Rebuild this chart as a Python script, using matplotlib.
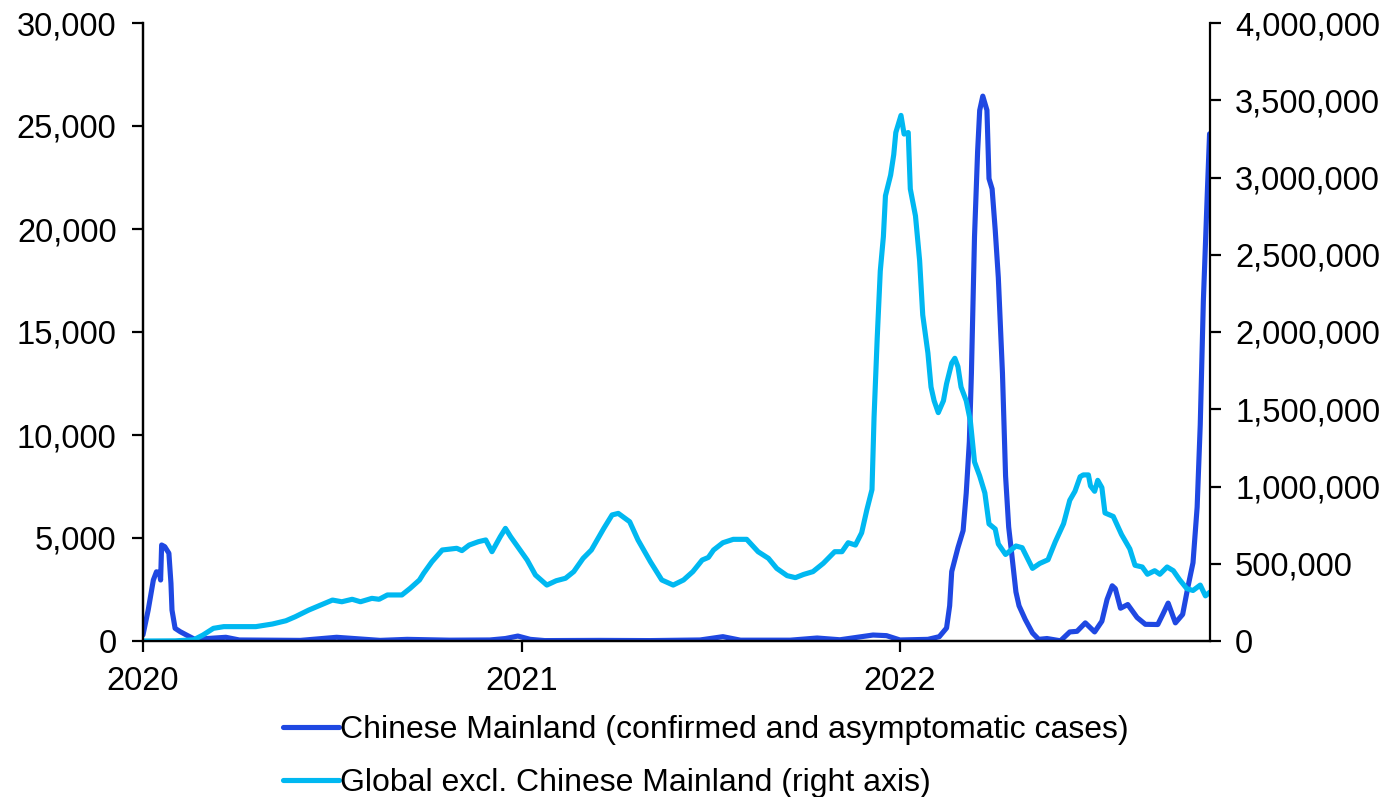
import matplotlib
matplotlib.use("Agg")
import matplotlib.pyplot as plt
import matplotlib.ticker as mticker
import pandas as pd

# ---------------- data (7-day average daily new cases) ----------------
china_dates = [
    "2020-01-22", "2020-01-27", "2020-02-01", "2020-02-04", "2020-02-07", "2020-02-08",
    "2020-02-09", "2020-02-12", "2020-02-16", "2020-02-18", "2020-02-19", "2020-02-22",
    "2020-02-27", "2020-03-04", "2020-03-12", "2020-04-11", "2020-04-24", "2020-06-22",
    "2020-07-27", "2020-09-07", "2020-10-03", "2020-11-13", "2020-12-22", "2021-01-06",
    "2021-01-18", "2021-01-30", "2021-02-13", "2021-04-07", "2021-05-26", "2021-07-13",
    "2021-08-04", "2021-08-21", "2021-10-08", "2021-11-03", "2021-11-25", "2021-12-27",
    "2022-01-09", "2022-01-22", "2022-02-18", "2022-03-01", "2022-03-08", "2022-03-11",
    "2022-03-13", "2022-03-19", "2022-03-24", "2022-03-27", "2022-03-30", "2022-04-01",
    "2022-04-04", "2022-04-07", "2022-04-09", "2022-04-12", "2022-04-16", "2022-04-18",
    "2022-04-21", "2022-04-24", "2022-04-27", "2022-05-01", "2022-05-04", "2022-05-07",
    "2022-05-10", "2022-05-14", "2022-05-17", "2022-05-23", "2022-05-30", "2022-06-05",
    "2022-06-13", "2022-06-26", "2022-07-05", "2022-07-12", "2022-07-20", "2022-07-29",
    "2022-08-05", "2022-08-10", "2022-08-15", "2022-08-18", "2022-08-23", "2022-08-30",
    "2022-09-08", "2022-09-16", "2022-09-28", "2022-10-03", "2022-10-08", "2022-10-15",
    "2022-10-22", "2022-10-27", "2022-11-01", "2022-11-05", "2022-11-08", "2022-11-11",
    "2022-11-15", "2022-11-17",
]
china_vals = [
    300, 1500, 2960, 3360, 3310, 2960,
    4660, 4580, 4260, 2800, 1500, 615,
    450, 290, 80, 180, 50, 30,
    180, 30, 80, 40, 50, 120,
    240, 80, 20, 30, 20, 50,
    210, 40, 40, 145, 60, 290,
    260, 50, 80, 210, 630, 1710,
    3370, 4530, 5360, 7180, 9670, 12990,
    19625, 23770, 25760, 26450, 25770, 22445,
    21945, 19955, 17635, 12990, 8010, 5530,
    4200, 2380, 1710, 1045, 390, 80,
    120, 10, 440, 470, 880, 440,
    960, 2015, 2680, 2540, 1590, 1770,
    1140, 810, 800, 1310, 1840, 880,
    1290, 2600, 3800, 6500, 10500, 16500,
    21990, 24620,
]

global_dates = [
    "2020-01-22", "2020-02-22", "2020-03-11", "2020-03-20", "2020-03-30", "2020-04-09",
    "2020-04-24", "2020-05-10", "2020-05-26", "2020-06-08", "2020-06-17", "2020-06-30",
    "2020-07-13", "2020-07-23", "2020-08-01", "2020-08-11", "2020-08-19", "2020-08-30",
    "2020-09-06", "2020-09-14", "2020-09-28", "2020-10-06", "2020-10-15", "2020-10-19",
    "2020-10-27", "2020-11-06", "2020-11-20", "2020-11-25", "2020-12-02", "2020-12-11",
    "2020-12-18", "2020-12-24", "2021-01-01", "2021-01-06", "2021-01-11", "2021-01-19",
    "2021-01-27", "2021-02-04", "2021-02-15", "2021-02-24", "2021-03-05", "2021-03-13",
    "2021-03-22", "2021-03-30", "2021-04-11", "2021-04-19", "2021-04-25", "2021-05-06",
    "2021-05-14", "2021-05-26", "2021-06-06", "2021-06-17", "2021-06-27", "2021-07-06",
    "2021-07-15", "2021-07-21", "2021-07-26", "2021-08-04", "2021-08-14", "2021-08-27",
    "2021-09-07", "2021-09-17", "2021-09-25", "2021-10-05", "2021-10-13", "2021-10-21",
    "2021-10-30", "2021-11-09", "2021-11-20", "2021-11-27", "2021-12-03", "2021-12-10",
    "2021-12-16", "2021-12-21", "2021-12-26", "2021-12-28", "2021-12-31", "2022-01-03",
    "2022-01-06", "2022-01-08", "2022-01-13", "2022-01-16", "2022-01-18", "2022-01-23",
    "2022-01-26", "2022-01-30", "2022-02-01", "2022-02-06", "2022-02-10", "2022-02-13",
    "2022-02-18", "2022-02-21", "2022-02-24", "2022-02-28", "2022-03-05", "2022-03-08",
    "2022-03-13", "2022-03-16", "2022-03-19", "2022-03-22", "2022-03-27", "2022-03-31",
    "2022-04-04", "2022-04-09", "2022-04-14", "2022-04-18", "2022-04-24", "2022-04-27",
    "2022-05-04", "2022-05-14", "2022-05-20", "2022-05-30", "2022-06-06", "2022-06-14",
    "2022-06-21", "2022-06-29", "2022-07-05", "2022-07-10", "2022-07-15", "2022-07-18",
    "2022-07-23", "2022-07-25", "2022-07-29", "2022-08-01", "2022-08-05", "2022-08-08",
    "2022-08-16", "2022-08-24", "2022-09-01", "2022-09-06", "2022-09-13", "2022-09-18",
    "2022-09-25", "2022-09-30", "2022-10-07", "2022-10-13", "2022-10-19", "2022-10-26",
    "2022-11-01", "2022-11-08", "2022-11-13", "2022-11-17",
]
global_vals = [
    0, 1000, 8000, 39000, 82000, 93000,
    93000, 93000, 110000, 131000, 157000, 200000,
    237000, 265000, 254000, 270000, 254000, 276000,
    270000, 298000, 298000, 341000, 395000, 438000,
    513000, 589000, 600000, 585000, 621000, 643000,
    654000, 578000, 675000, 729000, 675000, 600000,
    524000, 427000, 362000, 390000, 406000, 449000,
    535000, 589000, 729000, 816000, 826000, 772000,
    654000, 513000, 395000, 362000, 395000, 449000,
    524000, 541000, 589000, 636000, 658000, 658000,
    578000, 535000, 470000, 423000, 410000, 431000,
    449000, 503000, 578000, 578000, 636000, 621000,
    700000, 848000, 980000, 1450000, 1955000, 2395000,
    2617000, 2882000, 3016000, 3148000, 3291000, 3402000,
    3281000, 3291000, 2926000, 2751000, 2462000, 2110000,
    1864000, 1644000, 1555000, 1478000, 1555000, 1665000,
    1799000, 1830000, 1776000, 1644000, 1555000, 1424000,
    1159000, 1068000, 958000, 758000, 725000, 628000,
    560000, 615000, 604000, 470000, 502000, 526000,
    642000, 759000, 911000, 969000, 1063000, 1075000,
    1075000, 1004000, 969000, 1040000, 993000, 829000,
    806000, 689000, 596000, 490000, 479000, 432000,
    455000, 432000, 479000, 455000, 397000, 339000,
    327000, 362000, 292000, 315000,
]

year_tick_dates = ["2020-01-22", "2021-01-22", "2022-01-22"]
year_labels = ["2020", "2021", "2022"]
x_start = "2020-01-22"
x_end = "2022-11-17 10:00"

china_label = "Chinese Mainland (confirmed and asymptomatic cases)"
global_label = "Global excl. Chinese Mainland (right axis)"

# ---------------- styling ----------------
DARK = "#1F48E2"
CYAN = "#00B8F1"
plt.rcParams["font.family"] = ["Liberation Sans", "DejaVu Sans"]

fig = plt.figure(figsize=(13.86, 7.97), dpi=100)
ax = fig.add_axes([143 / 1386, 1 - 641 / 797, (1210 - 143) / 1386, (641 - 23) / 797])
ax2 = ax.twinx()

cd = pd.to_datetime(china_dates)
gd = pd.to_datetime(global_dates)
l1, = ax.plot(cd, china_vals, color=DARK, lw=3.7, solid_capstyle="round",
              solid_joinstyle="round", label=china_label)
l2, = ax2.plot(gd, global_vals, color=CYAN, lw=3.7, solid_capstyle="round",
               solid_joinstyle="round", label=global_label)

ax.set_xlim(pd.Timestamp(x_start), pd.Timestamp(x_end))
ax.set_ylim(0, 30000)
ax2.set_ylim(0, 4000000)
ax.set_yticks(range(0, 30001, 5000))
ax2.set_yticks(range(0, 4000001, 500000))
fmt = mticker.FuncFormatter(lambda v, p: f"{int(v):,}")
ax.yaxis.set_major_formatter(fmt)
ax2.yaxis.set_major_formatter(fmt)

ax.set_xticks(pd.to_datetime(year_tick_dates))
ax.set_xticklabels(year_labels)

for a in (ax, ax2):
    a.spines["top"].set_visible(False)
    for s in a.spines.values():
        s.set_linewidth(1.6)
        s.set_color("black")
    a.tick_params(axis="both", which="major", length=8, width=1.6, labelsize=23.5,
                  colors="black", direction="out")
ax.tick_params(axis="y", pad=11)
ax2.tick_params(axis="y", pad=10)
ax.tick_params(axis="x", pad=10)
ax.spines["right"].set_visible(False)

leg = fig.legend(handles=[l1, l2], loc="upper left",
                 bbox_to_anchor=(283 / 1386, 1 - 715 / 797),
                 frameon=False, handlelength=1.75, handletextpad=0.05,
                 labelspacing=0.72, borderaxespad=0, borderpad=0,
                 prop={"family": ["Liberation Sans", "DejaVu Sans"], "size": 23})

fig.savefig("out.png", dpi=100)
